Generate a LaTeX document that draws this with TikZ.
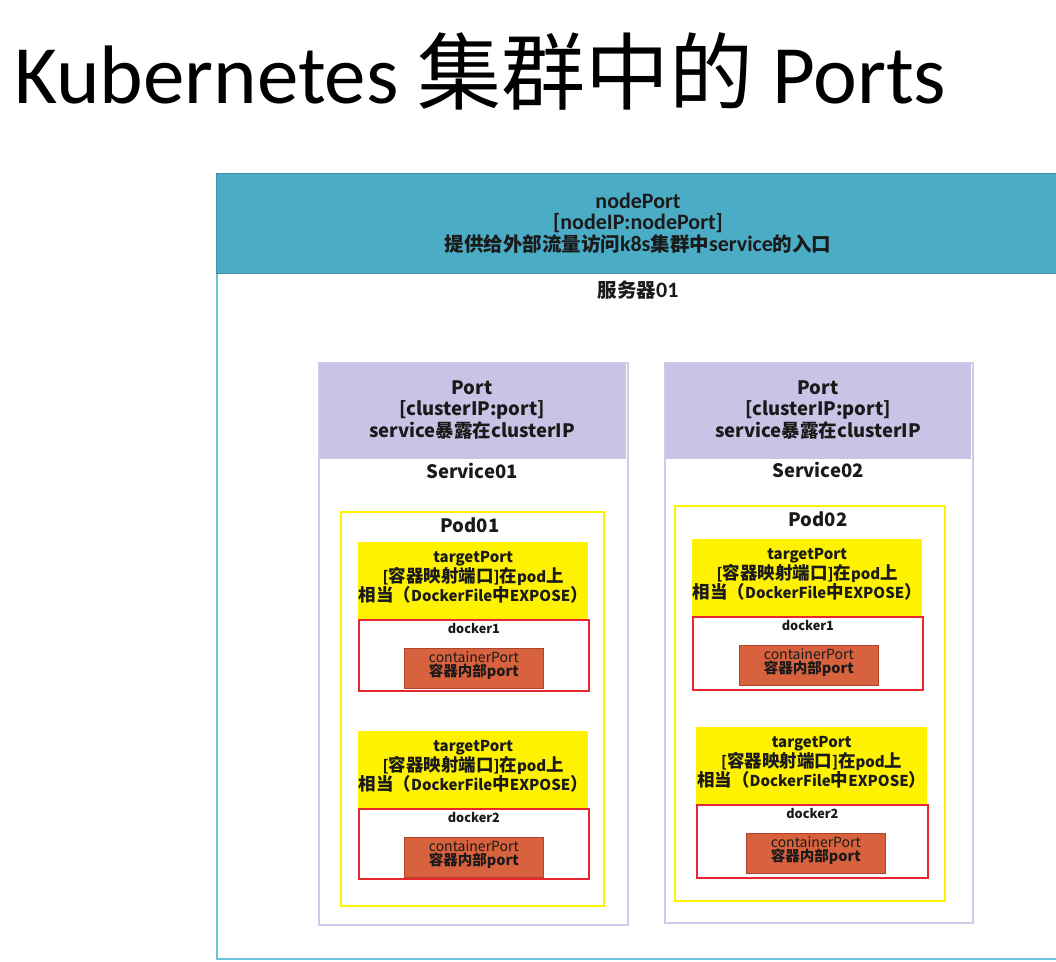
\documentclass[tikz,border=0pt]{standalone}
\usepackage{fontspec}
\setmainfont{Carlito}
\newfontfamily\cjk{Noto Sans CJK SC}
\usetikzlibrary{calc}
\definecolor{teal1}{HTML}{4BACC6}
\definecolor{tealb}{HTML}{6EC3DC}
\definecolor{lav}{HTML}{CBC3E6}
\definecolor{lavb}{HTML}{CFCBEA}
\definecolor{yel}{HTML}{FFF200}
\definecolor{redb}{HTML}{E8262E}
\definecolor{org}{HTML}{D9623E}
\definecolor{orgb}{HTML}{B0452A}
\definecolor{txt}{HTML}{1A1A1A}
\newcommand{\CJ}[1]{{\fontsize{17.5}{19.5}\selectfont #1}}
\tikzset{
  x=1pt, y=-1pt,
  lbl/.style={align=center, text=txt, inner sep=0pt},
  outerbox/.style={draw=tealb, line width=1.5pt, fill=white},
  bandbox/.style={draw=teal1!85!black, line width=0.8pt, fill=teal1},
  svcbox/.style={draw=lavb, line width=1.8pt, fill=white},
  svchead/.style={fill=lav, draw=none},
  podbox/.style={draw=yel, line width=2pt, fill=white},
  tpbox/.style={fill=yel, draw=none, inner sep=0pt},
  dkbox/.style={draw=redb, line width=1.8pt, fill=white, inner sep=0pt},
  cpbox/.style={draw=orgb, line width=0.8pt, fill=org, inner sep=0pt},
  tpfont/.style={font=\cjk\bfseries\fontsize{15}{19.5}\selectfont},
  smfont/.style={font=\cjk\bfseries\fontsize{12.7}{15}\selectfont},
  bigfont/.style={font=\cjk\bfseries\fontsize{18.5}{21.5}\selectfont},
}
% #1 name, #2 x left, #3 y top, #4 width, #5 red height, #6 docker label, #7 orange x left
\newcommand{\dunit}[7]{%
  \node[tpbox, minimum width=#4, minimum height=77, anchor=north west] (#1t) at (#2,#3) {};
  \node[lbl, tpfont] (#1tl) at ($(#1t.center)+(0,-3)$) {targetPort\\{[}\CJ{容器映射端口}{]}\CJ{在}pod\CJ{上}\\\CJ{相当（}DockerFile\CJ{中}EXPOSE\CJ{）}};
  \node[dkbox, minimum width=#4, minimum height=#5, anchor=north west] (#1d) at (#1t.south west) {};
  \node[lbl, smfont, anchor=north] (#1dl) at ($(#1d.north)+(0,4)$) {#6};
  \node[cpbox, minimum width=139, minimum height=40, anchor=north west] (#1c) at ($(#7,#3)+(0,106)$) {};
  \node[lbl, anchor=center] (#1cl) at ($(#1c.center)+(0,-3)$) {{\cjk\fontsize{14}{15}\selectfont containerPort}\\{\cjk\bfseries\fontsize{14.5}{15}\selectfont 容器内部port}};
}
\begin{document}
\begin{tikzpicture}
\useasboundingbox (0,0) rectangle (1056,961);
\clip (0,0) rectangle (1056,961);
\fill[white] (0,0) rectangle (1056,961);
% title
\node[anchor=base west, inner sep=0pt, text=black] (title) at (14,103) {\fontsize{83}{95}\selectfont Kubernetes {\cjk\fontsize{84}{95}\selectfont 集群中的} Ports};
% outer server
\node[outerbox, minimum width=846, minimum height=785, anchor=north west, inner sep=0pt] (server) at (216,173) {};
\node[bandbox, minimum width=846, minimum height=100, anchor=north west, inner sep=0pt] (band) at (216,173) {};
\node[lbl, font=\bfseries\fontsize{22}{21.5}\selectfont] (bandl) at (638,223) {nodePort\\{[}nodeIP:nodePort{]}\\{\cjk\fontsize{19.5}{21}\selectfont 提供给外部流量访问}k8s{\cjk\fontsize{19.5}{21}\selectfont 集群中}service{\cjk\fontsize{19.5}{21}\selectfont 的入口}};
\node[lbl, font=\bfseries\fontsize{22}{21}\selectfont] (srvl) at (638,290) {{\cjk\fontsize{19.5}{20}\selectfont 服务器}01};
% services
\node[svcbox, minimum width=309, minimum height=562, anchor=north west, inner sep=0pt] (svc1) at (318,362) {};
\node[svchead, minimum width=307, minimum height=96, anchor=north west, inner sep=0pt] (svc1h) at (319,363) {};
\node[lbl, bigfont] (svc1hl) at (472,410) {Port\\{[}clusterIP:port{]}\\service暴露在clusterIP};
\node[lbl, bigfont] (svc1l) at (472,471) {Service01};

\node[svcbox, minimum width=308, minimum height=560, anchor=north west, inner sep=0pt] (svc2) at (664,362) {};
\node[svchead, minimum width=306, minimum height=96, anchor=north west, inner sep=0pt] (svc2h) at (665,363) {};
\node[lbl, bigfont] (svc2hl) at (818,410) {Port\\{[}clusterIP:port{]}\\service暴露在clusterIP};
\node[lbl, bigfont] (svc2l) at (818,470) {Service02};
% pods
\node[podbox, minimum width=263, minimum height=394, anchor=north west, inner sep=0pt] (pod1) at (340,511) {};
\node[lbl, bigfont] (pod1l) at (470,525) {Pod01};
\node[podbox, minimum width=270, minimum height=395, anchor=north west, inner sep=0pt] (pod2) at (674,505) {};
\node[lbl, bigfont] (pod2l) at (818,519) {Pod02};
% docker units
\dunit{a}{358}{542}{230}{71}{docker1}{404}
\dunit{b}{358}{731}{230}{70}{docker2}{404}
\dunit{c}{692}{539}{230}{73}{docker1}{739}
\dunit{d}{696}{727}{231}{73}{docker2}{746}
\end{tikzpicture}
\end{document}
